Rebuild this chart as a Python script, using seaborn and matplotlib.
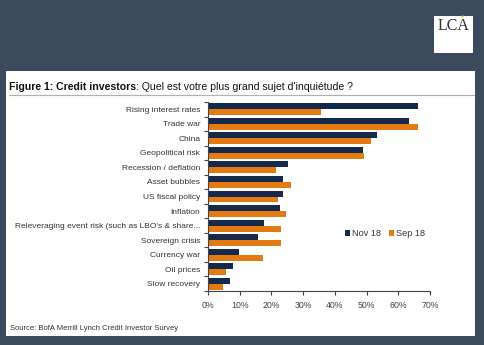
import matplotlib
matplotlib.use("Agg")
import matplotlib.pyplot as plt
import seaborn as sns
import pandas as pd
import numpy as np
from matplotlib.patches import Rectangle, Circle
from matplotlib.lines import Line2D
from matplotlib.ticker import FixedLocator, FuncFormatter

categories = ["Rising interest rates", "Trade war", "China", "Geopolitical risk",
              "Recession / deflation", "Asset bubbles", "US fiscal policy", "Inflation",
              "Releveraging event risk (such as LBO's & share...", "Sovereign crisis",
              "Currency war", "Oil prices", "Slow recovery"]
nov18 = [66.3, 63.5, 53.2, 48.9, 25.3, 23.7, 23.7, 22.8, 17.6, 15.9, 9.8, 7.9, 6.9]
sep18 = [35.5, 66.3, 51.3, 49.1, 21.5, 26.2, 22.2, 24.6, 23.0, 23.0, 17.4, 5.6, 4.8]
series = ["Nov 18", "Sep 18"]
xticks = [0, 10, 20, 30, 40, 50, 60, 70]

df = pd.DataFrame({
    "category": categories * 2,
    "value": nov18 + sep18,
    "series": [series[0]] * len(categories) + [series[1]] * len(categories),
})

sns.set_theme(style="white")
plt.rcParams["font.family"] = ["Liberation Sans", "DejaVu Sans"]

W, H = 484, 345
fig = plt.figure(figsize=(W / 100, H / 100), dpi=100)
fig.patch.set_facecolor("#3c4a5d")

# white panel
fig.patches.append(Rectangle((6 / W, 1 - 336 / H), (475 - 6) / W, (336 - 71) / H,
                             transform=fig.transFigure, facecolor="white", edgecolor="none", zorder=-2))
# logo box
fig.patches.append(Rectangle((434 / W, 1 - 53 / H), (473 - 434) / W, (53 - 16) / H,
                             transform=fig.transFigure, facecolor="white", edgecolor="none", zorder=-2))
fig.text(454 / W, 1 - 26 / H, "LCA", family=["Liberation Serif", "DejaVu Serif"],
         fontsize=11.5, color="#2e3440", ha="center", va="center")
fig.patches.append(Circle((462.5 / W, 1 - 16.5 / H), 1.4 / W, transform=fig.transFigure,
                          facecolor="#f2d21b", edgecolor="none", zorder=3))

# title
t1 = fig.text(9 / W, 1 - 87 / H, "Figure 1: Credit investors", fontsize=7.6,
              fontweight="bold", color="#111111", va="center", ha="left")
fig.canvas.draw()
bb = t1.get_window_extent()
fig.text(bb.x1 / W, 1 - 87 / H, ": Quel est votre plus grand sujet d'inquiétude ?",
         fontsize=7.6, color="#111111", va="center", ha="left")
fig.add_artist(Line2D([9 / W, 474 / W], [1 - 94.5 / H, 1 - 94.5 / H], transform=fig.transFigure,
                      color="#b0b0b0", lw=0.8))

# source
fig.text(10 / W, 1 - 329 / H, "Source: BofA Merrill Lynch Credit Investor Survey",
         fontsize=5.5, color="#333333", va="center", ha="left")

ax = fig.add_axes([208 / W, 1 - 291 / H, (430 - 208) / W, (291 - 102) / H])
ax.set_facecolor("none")
sns.barplot(data=df, y="category", x="value", hue="series", orient="h",
            palette=["#14294b", "#e47b12"], width=0.82, gap=0, ax=ax, saturation=1,
            edgecolor="none")

ax.set_xlim(0, 70)
ax.set_ylim(len(categories) - 0.5, -0.5)
ax.set_xlabel("")
ax.set_ylabel("")
ax.xaxis.set_major_locator(FixedLocator(xticks))
ax.xaxis.set_major_formatter(FuncFormatter(lambda v, p: f"{int(v)}%"))
ax.tick_params(axis="x", length=3, width=0.8, color="#444444", labelsize=6.3,
               labelcolor="#444444", pad=4.0, direction="out", bottom=True)
ax.tick_params(axis="y", which="major", length=0, labelsize=6.0, labelcolor="#333333", pad=5.5)
ax.yaxis.set_minor_locator(FixedLocator(np.arange(-0.5, len(categories), 1.0)))
ax.tick_params(axis="y", which="minor", length=3, width=0.8, color="#444444", left=True)
for s in ["top", "right"]:
    ax.spines[s].set_visible(False)
for s in ["left", "bottom"]:
    ax.spines[s].set_color("#444444")
    ax.spines[s].set_linewidth(0.8)

handles, labels = ax.get_legend_handles_labels()
ax.legend(handles, labels, loc="center", bbox_to_anchor=(385 / W, 1 - 234 / H),
          bbox_transform=fig.transFigure, ncol=2, frameon=False, fontsize=6.6,
          handlelength=0.55, handleheight=0.55, handletextpad=0.2, columnspacing=0.9,
          labelcolor="#333333")

fig.savefig("out.png", dpi=100, facecolor=fig.get_facecolor())
